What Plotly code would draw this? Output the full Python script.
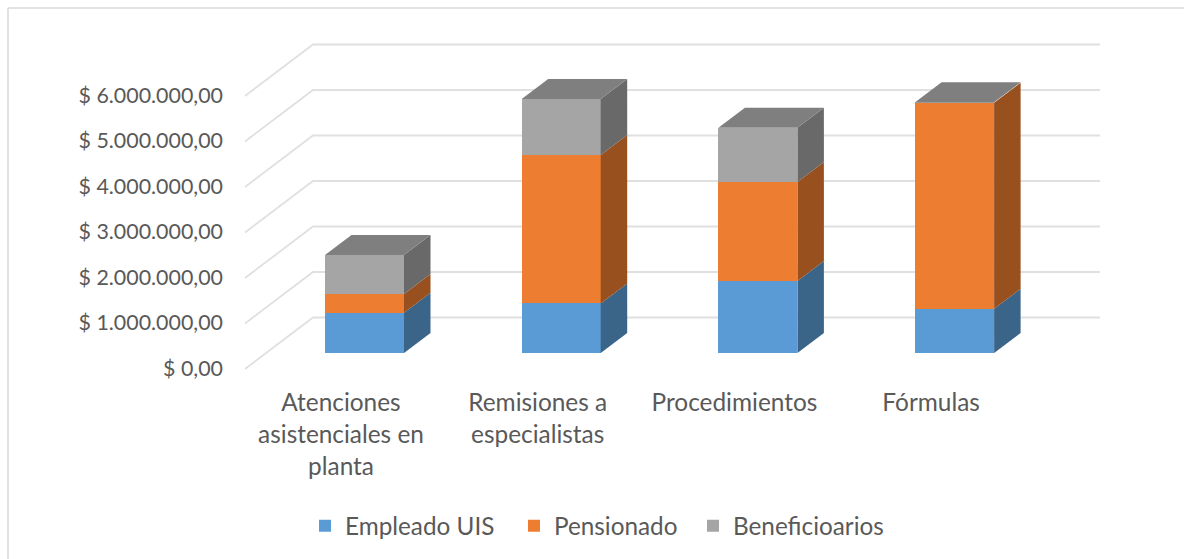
import plotly.graph_objects as go

# ---- data ----
categories = ["Atenciones<br>asistenciales en<br>planta", "Remisiones a<br>especialistas", "Procedimientos", "Fórmulas"]
series_names = ["Empleado UIS", "Pensionado", "Beneficioarios"]
empleado = [886000, 1090000, 1580000, 970000]
pensionado = [410000, 3260000, 2180000, 4530000]
beneficiarios = [857000, 1235000, 1190000, 10000]
tick_values = [0, 1000000, 2000000, 3000000, 4000000, 5000000, 6000000]

# ---- styles ----
front = ["#5B9BD5", "#ED7D31", "#A5A5A5"]
side = ["#3A6488", "#97501E", "#696969"]
top_color = "#7F7F7F"
grid = "#E0E0E0"
text = "#595959"
FONT = "Lato"

W, H = 1184, 559
L, R, T, B = 232, 1110, 30, 385   # plot-area box, pixels
step_x = 196.7                     # pixels per category
x_zero = 364.5                     # pixels of first bar centre
px_per = 45.5 / 1e6                # pixels per value unit
y_zero = 353.0                     # pixels of value 0 at bar front
DX = 26.5 / step_x                 # bar depth in x units
DY = 20.0 / px_per                 # bar depth in y units
BW = 79 / step_x


def xr(origin):
    return [(L - origin) / step_x, (R - origin) / step_x]


def yr(origin):
    return [(origin - B) / px_per, (origin - T) / px_per]


def fmt(v):
    return "$ " + f"{v:,.2f}".replace(",", "X").replace(".", ",").replace("X", ".")


fig = go.Figure()
series = [empleado, pensionado, beneficiarios]
xs = list(range(len(categories)))
legend_ids = ["legend", "legend2", "legend3"]

for name, vals, col, lg in zip(series_names, series, front, legend_ids):
    fig.add_trace(go.Bar(x=xs, y=vals, name=name, width=BW, marker=dict(color=col, line=dict(width=0)),
                         hoverinfo="skip", legend=lg))

# 3D side and top faces derived from the stacked values
for i in xs:
    base = 0
    r = i + BW / 2
    l = i - BW / 2
    for vals, col in zip(series, side):
        t = base + vals[i]
        fig.add_trace(go.Scatter(x=[r, r + DX, r + DX, r, r], y=[base, base + DY, t + DY, t, base],
                                 mode="lines", line=dict(width=0), fill="toself", fillcolor=col,
                                 showlegend=False, hoverinfo="skip"))
        base = t
    fig.add_trace(go.Scatter(x=[l, r, r + DX, l + DX, l], y=[base, base, base + DY, base + DY, base],
                             mode="lines", line=dict(width=0), fill="toself", fillcolor=top_color,
                             showlegend=False, hoverinfo="skip"))

# invisible trace binding the label axes
fig.add_trace(go.Scatter(x=xs, y=tick_values[:4], xaxis="x2", yaxis="y2", mode="markers",
                         marker=dict(opacity=0), showlegend=False, hoverinfo="skip"))

# back wall + side wall grid, in data units
fl_x = (245 - x_zero) / step_x
bk_x = (313 - x_zero) / step_x
rt_x = (1100 - x_zero) / step_x
fl_off = (y_zero - 369) / px_per
bk_off = (y_zero - 317.5) / px_per
shapes = []
for v in tick_values:
    path = f"M {fl_x} {v + fl_off} L {bk_x} {v + bk_off} L {rt_x} {v + bk_off}"
    shapes.append(dict(type="path", path=path, xref="x", yref="y", layer="below",
                       line=dict(color=grid, width=1.8)))

# chart frame (left and top edges only)
fx = lambda p: (p - L) / (R - L)
fy = lambda p: (B - p) / (B - T)
shapes.append(dict(type="line", xref="paper", yref="paper", x0=fx(8), x1=fx(8), y0=fy(559), y1=fy(8),
                   line=dict(color="#D9D9D9", width=1.5)))
shapes.append(dict(type="line", xref="paper", yref="paper", x0=fx(8), x1=fx(1184), y0=fy(8), y1=fy(8),
                   line=dict(color="#D9D9D9", width=1.5)))


def legend_at(text_px):
    return dict(orientation="h", x=fx(text_px - 40), y=fy(526), xanchor="left", yanchor="middle",
                font=dict(size=24.3, family=FONT, color=text), bgcolor="rgba(0,0,0,0)")


fig.update_layout(
    width=W, height=H, barmode="stack", bargap=0,
    margin=dict(l=L, r=W - R, t=T, b=H - B, pad=0, autoexpand=False),
    paper_bgcolor="white", plot_bgcolor="rgba(0,0,0,0)",
    font=dict(family=FONT, color=text),
    showlegend=True,
    shapes=shapes,
    xaxis=dict(range=xr(x_zero), visible=False, fixedrange=True),
    yaxis=dict(range=yr(y_zero), visible=False, fixedrange=True),
    xaxis2=dict(range=xr(341), overlaying="x", side="bottom", anchor="y2", tickmode="array", tickvals=xs,
                ticktext=categories, tickangle=0, showgrid=False, zeroline=False, showline=False, ticks="",
                tickfont=dict(size=24.4, family=FONT, color=text), ticklabelstandoff=1, fixedrange=True),
    yaxis2=dict(range=yr(368), overlaying="y", side="left", anchor="x2", tickmode="array", tickvals=tick_values,
                ticktext=[fmt(v) for v in tick_values], showgrid=False, zeroline=False, showline=False, ticks="",
                tickfont=dict(size=21.4, family=FONT, color=text), ticklabelstandoff=8, fixedrange=True),
    legend=legend_at(345),
    legend2=legend_at(554),
    legend3=legend_at(733),
)

fig.write_html("out.html", post_script="document.body.style.margin='0';",
               config={"displayModeBar": False})
